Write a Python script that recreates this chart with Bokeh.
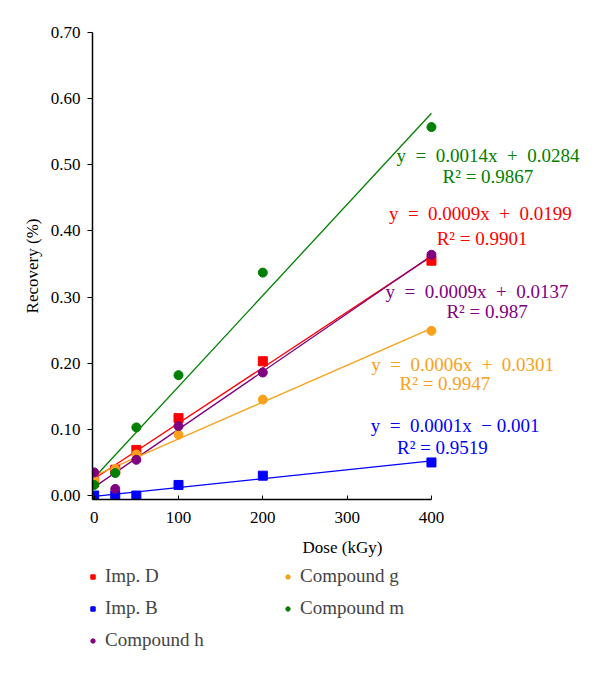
import numpy as np
from bokeh.plotting import figure
from bokeh.layouts import column
from bokeh.models import Range1d, FixedTicker, NumeralTickFormatter, Label, Legend, LegendItem
from bokeh.embed import file_html
from bokeh.resources import INLINE

FONT = "Liberation Serif"

dose = [0, 25, 50, 100, 200, 400]
imp_d = [0.020, 0.039, 0.069, 0.117, 0.203, 0.355]
imp_b = [0.000, 0.000, 0.000, 0.016, 0.030, 0.050]
comp_h = [0.035, 0.010, 0.054, 0.105, 0.186, 0.364]
comp_g = [0.023, 0.040, 0.062, 0.092, 0.145, 0.249]
comp_m = [0.016, 0.034, 0.103, 0.182, 0.337, 0.557]

names = ["Imp. D", "Imp. B", "Compound h", "Compound g", "Compound m"]
colors = ["#FF0000", "#0000FF", "#800080", "#F9A11B", "#008000"]
markers = ["square", "square", "circle", "circle", "circle"]
series = [imp_d, imp_b, comp_h, comp_g, comp_m]

S = "\u2002"
equations = [f"y{S}={S}0.0009x{S}+{S}0.0199", f"y{S}={S}0.0001x{S}\u2212 0.001", f"y{S}={S}0.0009x{S}+{S}0.0137",
             f"y{S}={S}0.0006x{S}+{S}0.0301", f"y{S}={S}0.0014x{S}+{S}0.0284"]
r2 = ["R² = 0.9901", "R² = 0.9519", "R² = 0.987", "R² = 0.9947", "R² = 0.9867"]
eq_pos = [(458, 0.426), (428, 0.106), (454, 0.309), (437, 0.198), (467, 0.514)]
r2_pos = [(460, 0.389), (413, 0.073), (466, 0.278), (416, 0.170), (467, 0.483)]

W = 592
p = figure(width=W, height=563, output_backend="svg", toolbar_location=None,
           x_range=Range1d(-2, 591), y_range=Range1d(-0.006, 0.70),
           min_border_left=92, min_border_right=0, min_border_top=32, min_border_bottom=64)
p.outline_line_color = None
p.grid.grid_line_color = None

p.xaxis.ticker = FixedTicker(ticks=[0, 100, 200, 300, 400])
p.yaxis.ticker = FixedTicker(ticks=[0, 0.1, 0.2, 0.3, 0.4, 0.5, 0.6, 0.7])
p.yaxis.formatter = NumeralTickFormatter(format="0.00")
p.xaxis.bounds = (-2, 400)
p.xaxis.axis_label = "Dose (kGy)"
p.yaxis.axis_label = "Recovery (%)"
for ax in (p.xaxis, p.yaxis):
    ax.axis_label_text_font = FONT
    ax.major_label_text_font = FONT
    ax.axis_label_text_font_size = "17px"
    ax.major_label_text_font_size = "17px"
    ax.axis_label_text_font_style = "normal"
    ax.axis_line_color = "black"
    ax.axis_line_width = 1.5
    ax.major_tick_line_color = "black"
    ax.minor_tick_line_color = None
    ax.major_label_text_color = "black"
    ax.axis_label_text_color = "black"
p.xaxis.major_tick_in = 4
p.xaxis.major_tick_out = 0
p.yaxis.major_tick_in = 0
p.yaxis.major_tick_out = 5
p.xaxis.major_label_standoff = 12
p.xaxis.axis_label_standoff = 12
p.yaxis.major_label_standoff = 7
p.yaxis.axis_label_standoff = 6

xs = np.array(dose, dtype=float)
for col, ys in zip(colors, series):
    k, b = np.polyfit(xs, np.array(ys), 1)
    p.line([0, 400], [b, k * 400 + b], color=col, line_width=1.3)
for i in [1, 0, 3, 4, 2]:
    p.scatter(dose, series[i], marker=markers[i], size=9, color=colors[i])

for i in range(5):
    for txt, (x, y) in ((equations[i], eq_pos[i]), (r2[i], r2_pos[i])):
        p.add_layout(Label(x=x, y=y, text=txt, text_align="center", text_baseline="middle",
                           text_color=colors[i], text_font=FONT, text_font_size="19px"))

# legend panel below the chart
lf = figure(width=W, height=92, output_backend="svg", toolbar_location=None,
            x_range=Range1d(0, 1), y_range=Range1d(0, 1), x_axis_type=None, y_axis_type=None,
            min_border_left=0, min_border_right=0, min_border_top=0, min_border_bottom=0)
if "frame_align" in lf.properties():
    lf.frame_align = False
    p.frame_align = False
lf.grid.grid_line_color = None
lf.outline_line_color = None
items = []
for i in range(5):
    r = lf.scatter(x=[-5], y=[-5], marker=markers[i], size=9, color=colors[i])
    items.append(LegendItem(label=names[i], renderers=[r]))
legend = Legend(items=items, nrows=3, orientation="vertical", location=(87, 4),
                label_text_font=FONT, label_text_font_size="19px", glyph_width=11, glyph_height=11,
                label_standoff=7, label_width=167, label_height=21, spacing=10,
                border_line_color=None, background_fill_alpha=0, margin=0, padding=0)
lf.add_layout(legend, "center")

open("out.html", "w").write(file_html(column(p, lf, spacing=0), INLINE))
